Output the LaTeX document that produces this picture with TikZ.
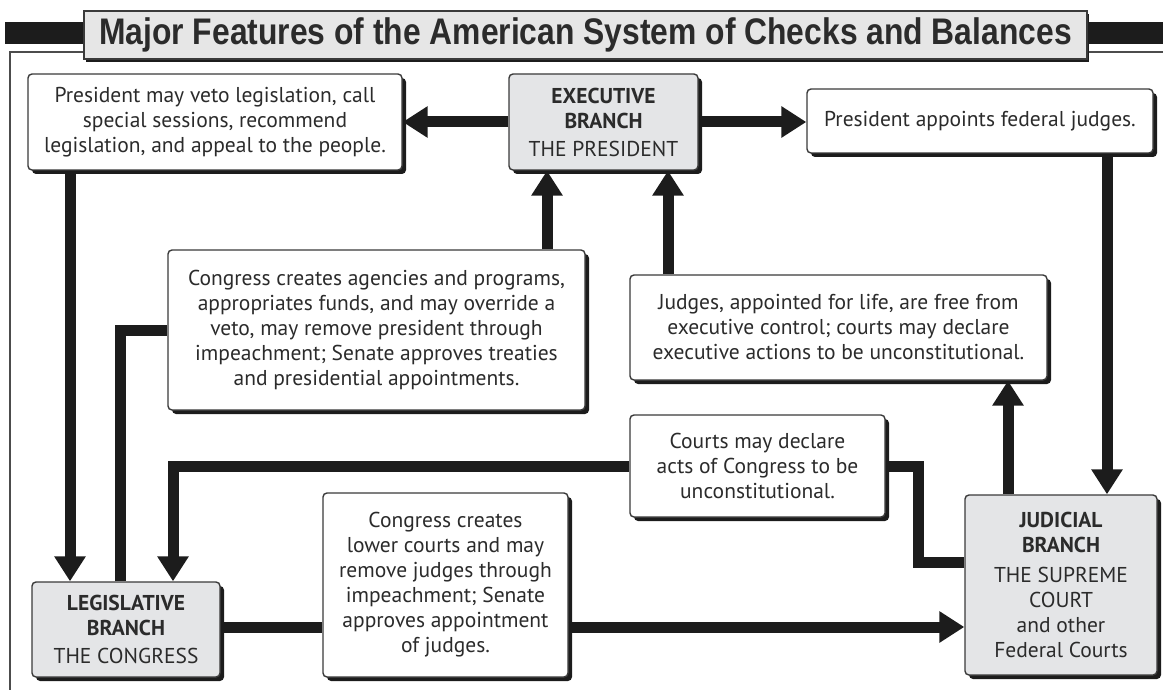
\documentclass[tikz,border=0pt]{standalone}
\usepackage{fontspec}
\setmainfont{PT Sans}
\newfontfamily\titlefont[FakeStretch=0.86]{Liberation Sans Bold}
\usepackage{xcolor}
\usepackage{tikz}
\definecolor{ink}{HTML}{2B2B2B}
\definecolor{boxline}{HTML}{3A3A3A}
\definecolor{branchgray}{HTML}{E4E5E7}
\definecolor{titlegray}{HTML}{E6E6E6}
\definecolor{barblack}{HTML}{1C1C1C}
\usetikzlibrary{arrows.meta,shadows}
\tikzset{
  note/.style={draw=boxline, fill=white, line width=1.4pt, rounded corners=4pt,
    align=center, inner sep=0pt, text=ink, font=\fontsize{21.5}{25}\selectfont,
    drop shadow={shadow xshift=4pt, shadow yshift=-4pt, fill=barblack, opacity=1}},
  branch/.style={note, fill=branchgray},
  titlebox/.style={draw=boxline, fill=titlegray, line width=1.2pt, inner sep=0pt,
    text=ink, font=\titlefont\fontsize{37}{39}\selectfont,
    drop shadow={shadow xshift=2pt, shadow yshift=-3pt, fill=barblack, opacity=1}},
  frame/.style={draw=black!70, line width=1.5pt},
  conn/.style={draw=barblack, line width=11pt},
  arr/.style={conn, -{Triangle[length=25pt, width=30pt]}},
}

\begin{document}
\begin{tikzpicture}[x=1pt, y=-1pt]

  \useasboundingbox (0,0) rectangle (1163,690);

  \draw[frame] (1163,52) -- (10,52) -- (10,690);
  \fill[barblack] (5,22) rectangle (1163,44);
  \node[titlebox, minimum width=1003pt, minimum height=48pt] (title) at (585.5,35)
      {Major Features of the American System of Checks and Balances};

  \node[note, minimum width=374pt, minimum height=96pt] (veto) at (215,122)
      {President may veto legislation, call\\special sessions, recommend\\legislation, and appeal to the people.};
  \node[branch, minimum width=189pt, minimum height=96pt] (exec) at (603.5,122)
      {\textbf{EXECUTIVE}\\\textbf{BRANCH}\\[3pt]THE PRESIDENT};
  \node[note, minimum width=346pt, minimum height=64pt] (appoint) at (980,121)
      {President appoints federal judges.};
  \node[note, minimum width=417pt, minimum height=160pt] (cexec) at (376.5,330)
      {Congress creates agencies and programs,\\appropriates funds, and may override a\\veto, may remove president through\\impeachment; Senate approves treaties\\and presidential appointments.};
  \node[note, minimum width=417pt, minimum height=105pt] (judges) at (838.5,327.5)
      {Judges, appointed for life, are free from\\executive control; courts may declare\\executive actions to be unconstitutional.};
  \node[note, minimum width=255pt, minimum height=102pt] (courts) at (757.5,466)
      {Courts may declare\\acts of Congress to be\\unconstitutional.};
  \node[branch, minimum width=188pt, minimum height=95pt] (legis) at (126,629.5)
      {\textbf{LEGISLATIVE}\\\textbf{BRANCH}\\[3pt]THE CONGRESS};
  \node[note, minimum width=245pt, minimum height=184pt] (lowcourts) at (445.5,585)
      {Congress creates\\lower courts and may\\remove judges through\\impeachment; Senate\\approves appointment\\of judges.};
  \node[branch, minimum width=192pt, minimum height=180pt] (judicial) at (1061,585)
      {\textbf{JUDICIAL}\\\textbf{BRANCH}\\[5pt]THE SUPREME\\COURT\\and other\\Federal Courts};

  \coordinate (xveto) at (70,0);
  \coordinate (xcong) at (120,0);
  \coordinate (xcourt) at (173,0);
  \coordinate (xcexec) at (547,0);
  \coordinate (xjudge) at (668,0);
  \coordinate (xjudup) at (1008,0);
  \coordinate (xappt) at (1107,0);
  \coordinate (kink) at (918,562);
  \coordinate (ylow) at (0,627);

  \draw[arr] (exec.west) -- (veto.east);
  \draw[arr] (exec.east) -- (exec.east -| appoint.west);
  \draw[arr] (appoint.south -| xappt) -- (judicial.north -| xappt);
  \draw[arr] (judicial.north -| xjudup) -- (judges.south -| xjudup);
  \draw[arr] (judges.north -| xjudge) -- (exec.south -| xjudge);
  \draw[arr] (cexec.north -| xcexec) -- (exec.south -| xcexec);
  \draw[conn] (legis.north -| xcong) |- (cexec.west);
  \draw[arr] (veto.south -| xveto) -- (legis.north -| xveto);
  \draw[arr] (courts.west) -| (legis.north -| xcourt);
  \draw[conn] (judicial.west |- kink) -- (kink) |- (courts.east);
  \draw[conn] (legis.east |- ylow) -- (lowcourts.west |- ylow);
  \draw[arr] (lowcourts.east |- ylow) -- (judicial.west |- ylow);

\end{tikzpicture}
\end{document}
